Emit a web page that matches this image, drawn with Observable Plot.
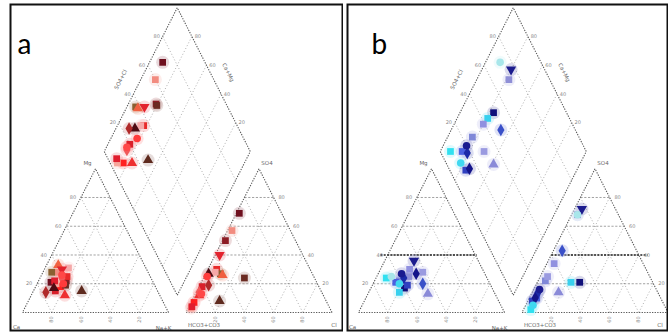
<!DOCTYPE html>
<html><head><meta charset="utf-8">
<script src="https://cdn.jsdelivr.net/npm/d3@7"></script>
<script src="https://cdn.jsdelivr.net/npm/@observablehq/plot@0.6"></script>
<style>
body{margin:0;background:#fff;}
#wrap{position:relative;width:668px;height:333px;overflow:hidden;background:#fff;}
#wrap svg{position:absolute;top:0;}
</style></head><body><div id="wrap"></div>
<script>
// ---------- text ----------
const panelLetters = ["a", "b"];
const cornerNames = ["Ca", "Na+K", "HCO3+CO3", "Cl"];
const apexNames = ["Mg", "SO4"];
const diamondNames = ["SO4+Cl", "Ca+Mg"];
const tickPct = [20, 40, 60, 80];

// ---------- panel a samples (percent of meq) ----------
const aMg  = [21, 28, 22, 30, 17, 25, 20, 15, 24, 18, 12, 15, 20, 33, 19, 22, 26, 14, 28, 31];
const aNa  = [ 9, 10, 19, 12, 13, 18, 18, 15, 15, 17, 23, 33, 13,  8, 20, 11, 14,  9,  6, 16];
const aSO4 = [69, 57, 50, 40, 27, 30, 25, 18, 14,  7, 12,  8,  3, 26, 24,  4, 13, 19, 27, 28];
const aCl  = [ 2,  3,  2,  3,  2,  6,  2,  2,  2,  2,  3, 19,  2, 12, 28,  2,  4,  6, 10,  6];
const aColor = ["#6e0f1e","#f28c80","#8c1c24","#e3232e","#4e0a12","#e82a2a","#ff3b3b","#d9202a","#f05a5a","#ff2020",
                "#ee3030","#5e2a1e","#f7a59a","#f06040","#6b2b22","#e01e2e","#ff4848","#b02a2a","#8a6030","#f5a8a8"];
const aShape = ["sq","sq","sq","tdn","tri","sq","cir","sq","dia","sq","tri","tri","sq","tri","sq","sq","cir","dia","sq","sq"];

// ---------- panel b samples ----------
const bMg  = [25, 36, 25, 17, 14, 20, 22, 27, 28, 24, 21, 20, 27, 13, 24, 30, 19];
const bNa  = [10, 20, 22, 23, 21, 34, 17, 16, 30, 19, 15, 18, 26, 41,  7, 20, 24];
const bSO4 = [68, 72, 68, 21, 21, 43, 22, 16, 25, 14, 10,  5, 10, 14,  2, 34,  8];
const bCl  = [ 4,  5,  4, 29, 23,  6,  5,  4,  5,  4,  5,  5,  4, 18,  5,  5,  3];
const bColor = ["#a8e6ea","#1c1c8e","#8f8fd6","#10107a","#38d0ee","#3a50c8","#8088d8","#1a1a90","#9a9ae0","#1c2aa8",
                "#4a60e0","#40d8f0","#14148a","#8a8ad8","#30e0f0","#9090e0","#3040c0"];
const bShape = ["cir","tdn","sq","sq","sq","dia","sq","cir","sq","dia","sq","cir","dia","tri","sq","sq","sq"];

// ---------- Piper geometry (unit triangle side = 1) ----------
const S3 = Math.sqrt(3) / 2;
const GAP = 0.12;
const P1 = [0, 0], Q1 = [1, 0], R1 = [0.5, S3];
const P2 = [1 + GAP, 0], Q2 = [2 + GAP, 0], R2 = [1.5 + GAP, S3];
const DB = [1 + GAP / 2, GAP * S3], DL = [0.5 + GAP / 2, GAP * S3 + S3],
      DT = [1 + GAP / 2, GAP * S3 + 2 * S3], DR = [1.5 + GAP / 2, GAP * S3 + S3];
const lerp = (p, q, t) => [p[0] + (q[0] - p[0]) * t, p[1] + (q[1] - p[1]) * t];
const seg = (p, q) => ({x1: p[0], y1: p[1], x2: q[0], y2: q[1]});
const cationXY = (mg, na) => [na + mg / 2, mg * S3];
const anionXY = (so4, cl) => [1 + GAP + cl + so4 / 2, so4 * S3];
const diamondXY = (c, a) => [1 + GAP / 2 - c / 2 + a / 2, GAP * S3 + (c + a) * S3];

const hSegs = [], dSegs = [];
for (const f of tickPct.map(v => v / 100)) {
  for (const [P, Q, R] of [[P1, Q1, R1], [P2, Q2, R2]]) {
    hSegs.push(seg(lerp(P, R, f), lerp(Q, R, f)));
    dSegs.push(seg(lerp(P, Q, f), lerp(R, Q, f)));
    dSegs.push(seg(lerp(Q, P, f), lerp(R, P, f)));
  }
  dSegs.push(seg(lerp(DB, DR, f), lerp(DL, DT, f)));
  dSegs.push(seg(lerp(DB, DL, f), lerp(DR, DT, f)));
}
const outline = [seg(P1, Q1), seg(Q1, R1), seg(R1, P1), seg(P2, Q2), seg(Q2, R2), seg(R2, P2),
                 seg(DB, DR), seg(DR, DT), seg(DT, DL), seg(DL, DB)];

function boldLines(pct) {
  if (pct == null) return [];
  const f = pct / 100;
  const a1 = lerp(P1, R1, f), b1 = lerp(Q1, R1, f);
  const a2 = lerp(P2, R2, f), b2 = lerp(Q2, R2, f);
  return [seg([a1[0] - 0.05, a1[1]], [b1[0] + 0.01, b1[1]]),
          seg([a2[0], a2[1]], [b2[0] + 0.06, b2[1]])];
}

function buildPoints(mg, na, so4, cl, color, shape) {
  const pts = [];
  mg.forEach((m, i) => {
    const M = m / 100, N = na[i] / 100, S = so4[i] / 100, C = cl[i] / 100;
    const base = {color: color[i], shape: shape[i], halo: d3.interpolateRgb(color[i], "#ffffff")(0.55)};
    const c = cationXY(M, N), an = anionXY(S, C), d = diamondXY(1 - N, S + C);
    pts.push({...base, x: c[0], y: c[1]}, {...base, x: an[0], y: an[1]}, {...base, x: d[0], y: d[1]});
  });
  return pts;
}

function labelSets(clDx) {
  const tickLabels = [];
  tickPct.forEach(v => {
    const f = v / 100;
    tickLabels.push({p: lerp(P1, R1, f), t: String(v), dx: -8, dy: 0, rot: 0});
    tickLabels.push({p: lerp(Q2, R2, f), t: String(v), dx: 8, dy: 0, rot: 0});
    tickLabels.push({p: lerp(P1, Q1, f), t: String(100 - v), dx: 0, dy: 7, rot: -90});
    tickLabels.push({p: lerp(P2, Q2, f), t: String(v), dx: 0, dy: 7, rot: -90});
    tickLabels.push({p: lerp(DL, DT, f), t: String(v), dx: -6, dy: 0, rot: 0});
    tickLabels.push({p: lerp(DT, DR, 1 - f), t: String(v), dx: 6, dy: 0, rot: 0});
  });
  const nameLabels = [
    {p: P1, t: cornerNames[0], dx: -6, dy: 15, rot: 0},
    {p: Q1, t: cornerNames[1], dx: -5, dy: 16, rot: 0},
    {p: P2, t: cornerNames[2], dx: 18, dy: 13, rot: 0},
    {p: Q2, t: cornerNames[3], dx: clDx, dy: 13, rot: 0},
    {p: R1, t: apexNames[0], dx: -8, dy: -6, rot: 0},
    {p: R2, t: apexNames[1], dx: 8, dy: -6, rot: 0},
    {p: lerp(DL, DT, 0.5), t: diamondNames[0], dx: -20, dy: 0, rot: -63.4},
    {p: lerp(DT, DR, 0.45), t: diamondNames[1], dx: 18, dy: 0, rot: 63.4}
  ];
  return {tickLabels, nameLabels};
}

const shapeSpec = {
  sq: {symbol: "square"}, tri: {symbol: "triangle"}, tdn: {symbol: "triangle", rotate: 180},
  dia: {symbol: "diamond"}, cir: {symbol: "circle"}
};

function textMarks(list, size, fill) {
  const groups = d3.groups(list, d => `${d.dx}|${d.dy}|${d.rot}`);
  return groups.map(([, arr]) => Plot.text(arr, {
    x: d => d.p[0], y: d => d.p[1], text: "t", dx: arr[0].dx, dy: arr[0].dy, rotate: arr[0].rot,
    fontSize: size, fill, fontFamily: "DejaVu Sans"
  }));
}

function makePanel(cfg) {
  const pts = buildPoints(...cfg.data);
  const {tickLabels, nameLabels} = labelSets(cfg.clDx);
  const x0 = cfg.originX - cfg.svgLeft;
  const ytop = GAP * S3 + 2 * S3;
  const svg = Plot.plot({
    width: cfg.svgWidth, height: 333,
    marginLeft: cfg.frameL - cfg.svgLeft, marginRight: cfg.svgLeft + cfg.svgWidth - cfg.frameR,
    marginTop: 4, marginBottom: 3,
    x: {axis: null, domain: [0, 2 + GAP], range: [x0, x0 + cfg.unitX * (2 + GAP)]},
    y: {axis: null, domain: [0, ytop], range: [312, 312 - 166 * ytop]},
    color: {type: "identity"},
    style: {background: "#fff"},
    marks: [
      Plot.link(dSegs, {x1: "x1", y1: "y1", x2: "x2", y2: "y2", stroke: "#9a9a9a", strokeWidth: 0.8, strokeDasharray: "1,2.2"}),
      Plot.link(hSegs, {x1: "x1", y1: "y1", x2: "x2", y2: "y2", stroke: "#8a8a8a", strokeWidth: 0.8, strokeDasharray: "2.2,1.6"}),
      Plot.link(boldLines(cfg.boldPct), {x1: "x1", y1: "y1", x2: "x2", y2: "y2", stroke: "#222", strokeWidth: 1.6, strokeDasharray: "2,1.3"}),
      Plot.link(outline, {x1: "x1", y1: "y1", x2: "x2", y2: "y2", stroke: "#5a5a5a", strokeWidth: 1.1, strokeDasharray: "1.3,1.3"}),
      ...textMarks(tickLabels, 5, "#8a8a8a"),
      ...textMarks(nameLabels, 5.5, "#666"),
      Plot.dot(pts, {x: "x", y: "y", fill: "halo", r: 6.5, fillOpacity: 0.35}),
      ...Object.entries(shapeSpec).map(([k, spec]) =>
        Plot.dot(pts.filter(p => p.shape === k), {x: "x", y: "y", fill: "color", r: 3.8, ...spec})),
      Plot.text([cfg.letter], {frameAnchor: "top-left", text: d => d, dx: cfg.letterDx, dy: 30,
        textAnchor: "start", fontSize: 28, fontFamily: "Lato", fill: "#000"}),
      Plot.frame({stroke: "#111", strokeWidth: 2})
    ]
  });
  svg.style.left = cfg.svgLeft + "px";
  return svg;
}

const wrap = document.getElementById("wrap");
wrap.appendChild(makePanel({
  letter: panelLetters[0], letterDx: 7, originX: 22, unitX: 146, svgLeft: 0, svgWidth: 343,
  frameL: 10, frameR: 342, boldPct: null, clDx: 2,
  data: [aMg, aNa, aSO4, aCl, aColor, aShape]
}));
wrap.appendChild(makePanel({
  letter: panelLetters[1], letterDx: 24, originX: 358, unitX: 146, svgLeft: 343, svgWidth: 325,
  frameL: 347, frameR: 667, boldPct: 40, clDx: -8,
  data: [bMg, bNa, bSO4, bCl, bColor, bShape]
}));
</script></body></html>
